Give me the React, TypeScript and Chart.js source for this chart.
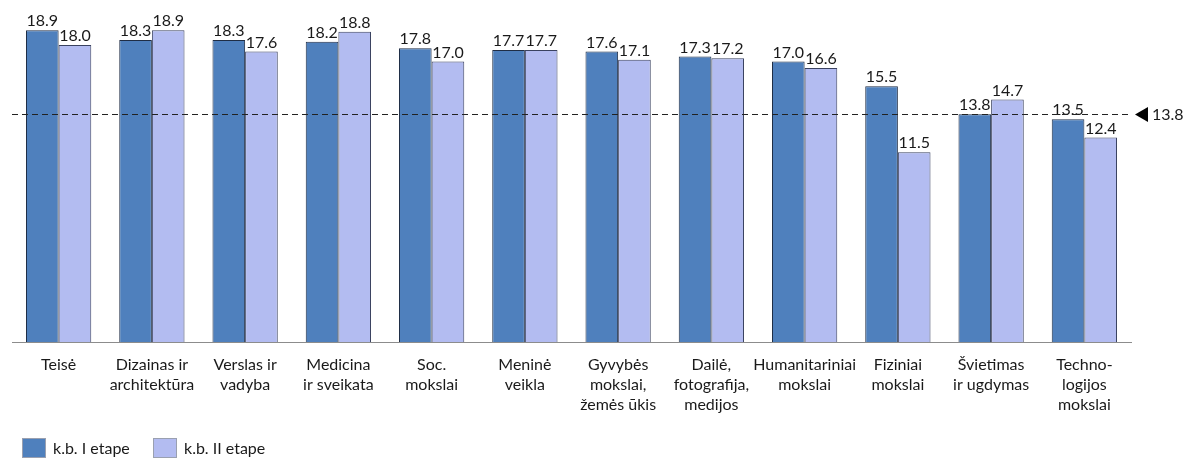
import React, { useEffect, useRef } from "react";
import { Chart, registerables } from "chart.js";

Chart.register(...registerables);

const categories: (string | string[])[] = [
  "Teisė",
  ["Dizainas ir", "architektūra"],
  ["Verslas ir", "vadyba"],
  ["Medicina", "ir sveikata"],
  ["Soc.", "mokslai"],
  ["Meninė", "veikla"],
  ["Gyvybės", "mokslai,", "žemės ūkis"],
  ["Dailė,", "fotografija,", "medijos"],
  ["Humanitariniai", "mokslai"],
  ["Fiziniai", "mokslai"],
  ["Švietimas", "ir ugdymas"],
  ["Techno-", "logijos", "mokslai"],
];

const stage1 = [18.9, 18.3, 18.3, 18.2, 17.8, 17.7, 17.6, 17.3, 17.0, 15.5, 13.8, 13.5];
const stage2 = [18.0, 18.9, 17.6, 18.8, 17.0, 17.7, 17.1, 17.2, 16.6, 11.5, 14.7, 12.4];
const seriesNames = ["k.b. I etape", "k.b. II etape"];
const seriesColors = ["#4F80BD", "#B3BCF1"];
const averageValue = 13.8;

const FONT = "Lato, 'Open Sans', sans-serif";

const labelsPlugin = {
  id: "valueLabels",
  afterDatasetsDraw(chart: any) {
    const ctx = chart.ctx;
    ctx.save();
    ctx.font = `16px ${FONT}`;
    ctx.fillStyle = "#1a1a1a";
    ctx.textAlign = "center";
    ctx.textBaseline = "bottom";
    chart.data.datasets.forEach((ds: any, i: number) => {
      const meta = chart.getDatasetMeta(i);
      meta.data.forEach((bar: any, j: number) => {
        ctx.fillText(Number(ds.data[j]).toFixed(1), bar.x, bar.y - 1);
      });
    });
    ctx.restore();
  },
};

const avgPlugin = {
  id: "avgLine",
  afterDatasetsDraw(chart: any) {
    const ctx = chart.ctx;
    const y = Math.round(chart.scales.y.getPixelForValue(averageValue));
    const left = chart.chartArea.left;
    const endX = chart.chartArea.right;
    ctx.save();
    ctx.strokeStyle = "#222";
    ctx.lineWidth = 1;
    ctx.setLineDash([6, 4]);
    ctx.beginPath();
    ctx.moveTo(left, y + 0.5);
    ctx.lineTo(endX, y + 0.5);
    ctx.stroke();
    ctx.setLineDash([]);
    const tx = endX + 4;
    ctx.fillStyle = "#000";
    ctx.beginPath();
    ctx.moveTo(tx, y + 0.5);
    ctx.lineTo(tx + 13, y - 7);
    ctx.lineTo(tx + 13, y + 8);
    ctx.closePath();
    ctx.fill();
    ctx.font = `16px ${FONT}`;
    ctx.textAlign = "left";
    ctx.textBaseline = "middle";
    ctx.fillStyle = "#1a1a1a";
    ctx.fillText(averageValue.toFixed(1), tx + 17, y + 1);
    ctx.restore();
  },
};

const legendPlugin = {
  id: "customLegend",
  afterDraw(chart: any) {
    const ctx = chart.ctx;
    ctx.save();
    ctx.font = `16px ${FONT}`;
    ctx.textBaseline = "middle";
    ctx.textAlign = "left";
    const xs = [22, 153];
    const top = 438;
    const bw = 24;
    const bh = 20;
    seriesNames.forEach((name, i) => {
      const x = xs[i];
      ctx.fillStyle = seriesColors[i];
      ctx.fillRect(x, top, bw, bh);
      ctx.strokeStyle = "#9aa0b0";
      ctx.lineWidth = 1;
      ctx.strokeRect(x + 0.5, top + 0.5, bw - 1, bh - 1);
      ctx.fillStyle = "#1a1a1a";
      ctx.fillText(name, x + bw + 7, top + bh / 2 + 1);
    });
    ctx.restore();
  },
};

export default function App() {
  const ref = useRef<HTMLCanvasElement | null>(null);
  useEffect(() => {
    if (!ref.current) return;
    const chart = new Chart(ref.current, {
      type: "bar",
      data: {
        labels: categories as any,
        datasets: [
          {
            label: seriesNames[0],
            data: stage1,
            backgroundColor: seriesColors[0],
            borderColor: "#1f2d45",
            borderWidth: 1,
            categoryPercentage: 0.7,
            barPercentage: 1,
          },
          {
            label: seriesNames[1],
            data: stage2,
            backgroundColor: seriesColors[1],
            borderColor: "#3a4260",
            borderWidth: 1,
            categoryPercentage: 0.7,
            barPercentage: 1,
          },
        ],
      },
      options: {
        animation: false,
        responsive: false,
        maintainAspectRatio: false,
        layout: { padding: { top: 12, left: 12, right: 57, bottom: 31 } },
        scales: {
          x: {
            grid: { display: false, drawTicks: false },
            border: { display: true, color: "#8c8c8c", width: 1 },
            ticks: {
              color: "#1a1a1a",
              font: { family: FONT, size: 16, lineHeight: 1.25 },
              padding: 13,
              maxRotation: 0,
              autoSkip: false,
            },
          },
          y: { display: false, min: 0, max: 20 },
        },
        plugins: {
          legend: { display: false },
          tooltip: { enabled: false },
        },
      },
      plugins: [labelsPlugin, avgPlugin, legendPlugin],
    });
    return () => chart.destroy();
  }, []);
  return (
    <div style={{ position: "fixed", left: 0, top: 0, width: 1188, height: 459, background: "#fff" }}>
      <canvas ref={ref} width={1188} height={459} style={{ width: 1188, height: 459 }} />
    </div>
  );
}
